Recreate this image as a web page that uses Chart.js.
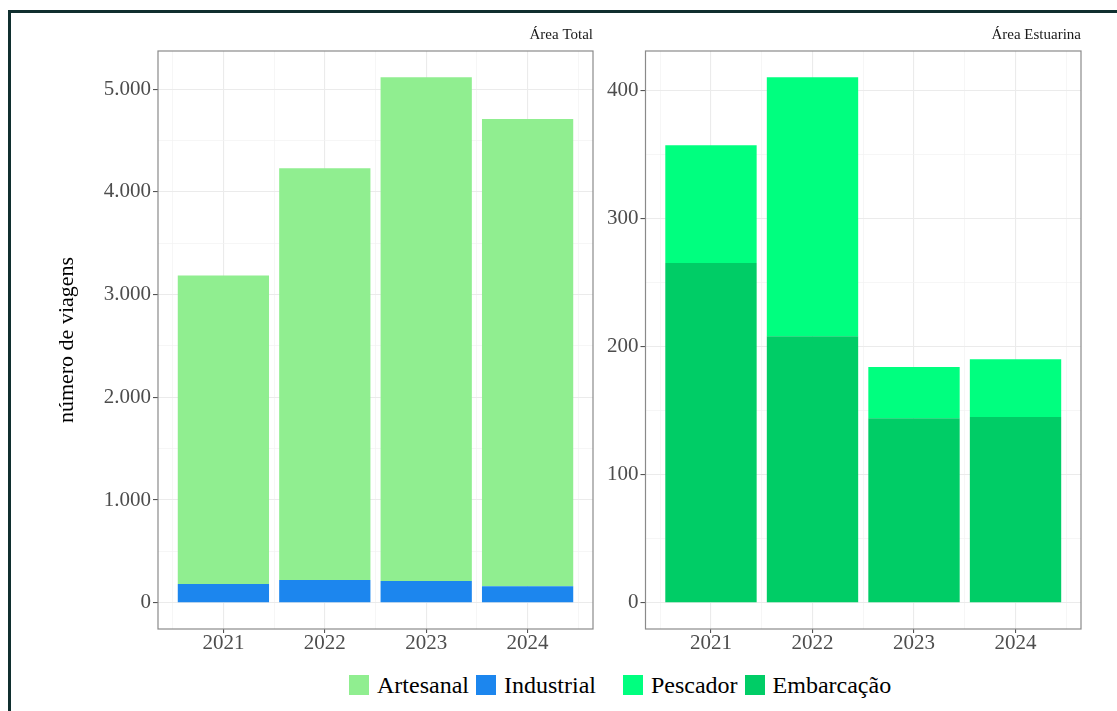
<!DOCTYPE html>
<html>
<head>
<meta charset="utf-8">
<script src="https://cdn.jsdelivr.net/npm/chart.js@4.4.1/dist/chart.umd.min.js"></script>
<style>
html,body{margin:0;padding:0;background:#fff;overflow:hidden;width:1117px;height:711px;}
#frame{position:absolute;left:8px;top:10px;width:3000px;height:3000px;border-left:3px solid #102f2f;border-top:3px solid #102f2f;}
#cTotal{position:absolute;left:0;top:0;}
#cEst{position:absolute;left:600px;top:0;}
#legend{position:absolute;left:349px;top:675px;display:flex;align-items:center;font-family:'Liberation Serif',serif;font-size:24px;color:#000;line-height:20px;}
.item{display:flex;align-items:center;margin-right:7px;}
.item.gap{margin-right:27px;}
.box{width:20px;height:20px;margin-right:8px;}
</style>
</head>
<body>
<div id="frame"></div>
<canvas id="cTotal" width="600" height="670"></canvas>
<canvas id="cEst" width="517" height="670"></canvas>
<div id="legend"></div>
<script>

/* DONNEES */

const years = [2021, 2022, 2023, 2024];

const artesanal  = [3004, 4009, 4904, 4550];
const industrial = [182, 221, 211, 160];

const embarcacao = [265, 208, 144, 145];
const pescador   = [92, 202, 40, 45];

const titleTotal = "Área Total";
const titleEst = "Área Estuarina";
const yTitle = "número de viagens";

const ticksTotal = [0, 1000, 2000, 3000, 4000, 5000];
const ticksEst = [0, 100, 200, 300, 400];

const COLORS = {
artesanal:"#90EE90",
industrial:"#1C86EE",
pescador:"#00FF7F",
embarcacao:"#00CD66"
};

Chart.defaults.font.family = "'Liberation Serif', 'Times New Roman', serif";
Chart.defaults.animation = false;

function fmt(v){
return String(v).replace(/\B(?=(\d{3})+(?!\d))/g, ".");
}

/* BORDURE DU PANNEAU */

const panelBorder = {
id:"panelBorder",
afterDatasetsDraw(chart){
const {ctx, chartArea:a} = chart;
ctx.save();
ctx.strokeStyle = "#8a8a8a";
ctx.lineWidth = 1.2;
ctx.strokeRect(a.left, a.top, a.right - a.left, a.bottom - a.top);
ctx.restore();
}
};

/* GRAPH */

function buildPanel(canvasId, title, series, majors, yWidth, rightPad, showYTitle){

// continuous x like ggplot: bars of 0.9, 5% expansion
let lo = years[0] - 0.45, hi = years[years.length-1] + 0.45;
let xMin = lo - (hi - lo) * 0.05;
let xMax = hi + (hi - lo) * 0.05;
let minorX = years.map(y => y - 0.5).concat([years[years.length-1] + 0.5]);

let totals = years.map((y,i) => series.reduce((s,d) => s + d.values[i], 0));
let maxT = Math.max(...totals);
let yMin = -maxT * 0.05;
let yMax = maxT * 1.05;

let step = majors[1] - majors[0];
let yTicks = [];
for(let v = majors[0]; v <= yMax; v += step/2) yTicks.push(v);
let isMajor = v => majors.includes(v);

let datasets = series.map(d => ({
label:d.label,
data:years.map((y,i) => ({x:y, y:d.values[i]})),
backgroundColor:d.color,
borderWidth:0,
barPercentage:0.9,
categoryPercentage:1.0,
xAxisID:"x",
yAxisID:"y"
}));

return new Chart(document.getElementById(canvasId), {
type:"bar",
data:{datasets:datasets},
plugins:[panelBorder],
options:{
responsive:false,
layout:{padding:{left:0, right:rightPad, top:0, bottom:0}},
plugins:{
legend:{display:false},
tooltip:{enabled:false},
title:{
display:true,
text:title,
align:"end",
color:"#1a1a1a",
font:{size:15, weight:"normal"},
padding:{top:26, bottom:7}
}
},
scales:{
x:{
type:"linear",
stacked:true,
offset:false,
min:xMin,
max:xMax,
afterBuildTicks:s => { s.ticks = years.map(v => ({value:v})); },
afterFit:s => { s.height = 41; },
grid:{offset:false, color:"#EBEBEB", lineWidth:1.1, tickLength:4, tickColor:"#555", tickWidth:1.1},
border:{display:false},
ticks:{color:"#4D4D4D", font:{size:21, lineHeight:1}, padding:0, maxRotation:0, autoSkip:false,
callback:v => String(v)}
},
xMinor:{
type:"linear",
position:"bottom",
offset:false,
min:xMin,
max:xMax,
afterBuildTicks:s => { s.ticks = minorX.map(v => ({value:v})); },
afterFit:s => { s.height = 0; },
grid:{offset:false, color:"#F2F2F2", lineWidth:0.7, drawTicks:false},
border:{display:false},
ticks:{display:false}
},
y:{
stacked:true,
min:yMin,
max:yMax,
afterBuildTicks:s => { s.ticks = yTicks.map(v => ({value:v})); },
afterFit:s => { s.width = yWidth; },
grid:{
color:c => isMajor(c.tick.value) ? "#EBEBEB" : "#F2F2F2",
lineWidth:c => isMajor(c.tick.value) ? 1.1 : 0.7,
tickLength:5,
tickWidth:1.1,
tickColor:c => isMajor(c.tick.value) ? "#555" : "rgba(0,0,0,0)"
},
border:{display:false},
ticks:{color:"#4D4D4D", font:{size:21}, padding:2, autoSkip:false,
callback:v => isMajor(v) ? fmt(v) : ""},
title:{
display:showYTitle,
text:yTitle,
color:"#000",
font:{size:22},
padding:{top:54, bottom:0}
}
}
}
}
});

}

buildPanel("cTotal", titleTotal, [
{label:"Industrial", values:industrial, color:COLORS.industrial},
{label:"Artesanal", values:artesanal, color:COLORS.artesanal}
], ticksTotal, 158, 7, true);

buildPanel("cEst", titleEst, [
{label:"Embarcação", values:embarcacao, color:COLORS.embarcacao},
{label:"Pescador", values:pescador, color:COLORS.pescador}
], ticksEst, 45.5, 36, false);

/* LEGENDE */

const legendItems = [
{label:"Artesanal", color:COLORS.artesanal},
{label:"Industrial", color:COLORS.industrial, gap:true},
{label:"Pescador", color:COLORS.pescador},
{label:"Embarcação", color:COLORS.embarcacao}
];

let leg = document.getElementById("legend");
legendItems.forEach(it => {
let d = document.createElement("div");
d.className = "item" + (it.gap ? " gap" : "");
let b = document.createElement("span");
b.className = "box";
b.style.background = it.color;
let t = document.createElement("span");
t.textContent = it.label;
d.appendChild(b);
d.appendChild(t);
leg.appendChild(d);
});

</script>
</body>
</html>
